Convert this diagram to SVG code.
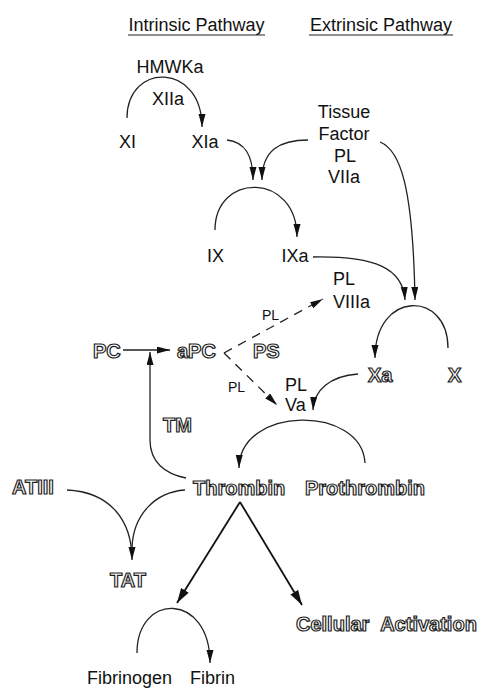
<svg xmlns="http://www.w3.org/2000/svg" width="486" height="689" viewBox="0 0 486 689">
<style>
.t{font-family:"Liberation Sans",Arial,sans-serif;font-size:18px;fill:#111}
.s{font-family:"Liberation Sans",Arial,sans-serif;font-size:14px;fill:#111}
.o{font-family:"Liberation Sans",Arial,sans-serif;font-size:20px;font-weight:bold;fill:#fff;stroke:#1e1e1e;stroke-width:1.2}
.c{fill:none;stroke:#222;stroke-width:1.3}
.d{fill:none;stroke:#222;stroke-width:1.3;stroke-dasharray:9 7}
.b{fill:none;stroke:#111;stroke-width:1.8}
</style>
<defs>
<marker id="a" markerUnits="userSpaceOnUse" markerWidth="14" markerHeight="8" refX="13" refY="3.5" orient="auto"><path d="M0,0 L13,3.5 L0,7 z" fill="#111"/></marker>
<marker id="ab" markerUnits="userSpaceOnUse" markerWidth="16" markerHeight="10" refX="15" refY="4.5" orient="auto"><path d="M0,0 L15,4.5 L0,9 z" fill="#111"/></marker>
</defs>
<g id="headers">
<text class="t" x="196.5" y="31" text-anchor="middle">Intrinsic Pathway</text>
<line x1="128" y1="35" x2="265" y2="35" stroke="#222" stroke-width="1.2"/>
<text class="t" x="381" y="31" text-anchor="middle">Extrinsic Pathway</text>
<line x1="309" y1="35" x2="453" y2="35" stroke="#222" stroke-width="1.2"/>
</g>
<g id="n-hmwka"><text class="t" x="170" y="73" text-anchor="middle">HMWKa</text></g>
<g id="n-xiia"><text class="t" x="168" y="105" text-anchor="middle">XIIa</text></g>
<g id="n-xi"><text class="t" x="127.5" y="148" text-anchor="middle">XI</text></g>
<g id="n-xia"><text class="t" x="205" y="148" text-anchor="middle">XIa</text></g>
<g id="n-tf"><text class="t" x="344" y="118" text-anchor="middle">Tissue</text><text class="t" x="344" y="140" text-anchor="middle">Factor</text><text class="t" x="345" y="162" text-anchor="middle">PL</text><text class="t" x="344" y="183" text-anchor="middle">VIIa</text></g>
<g id="n-ix"><text class="t" x="215.5" y="262" text-anchor="middle">IX</text></g>
<g id="n-ixa"><text class="t" x="295" y="262" text-anchor="middle">IXa</text></g>
<g id="n-viiia"><text class="t" x="333" y="285">PL</text><text class="t" x="333" y="308">VIIIa</text></g>
<g id="n-xa"><text class="o" x="368" y="382">Xa</text></g>
<g id="n-x"><text class="o" x="448" y="382">X</text></g>
<g id="n-pc"><text class="o" x="93" y="358">PC</text></g>
<g id="n-apc"><text class="o" x="177" y="358">aPC</text></g>
<g id="n-ps"><text class="o" x="253" y="358">PS</text></g>
<g id="n-pl1"><text class="s" x="262" y="320">PL</text></g>
<g id="n-pl2"><text class="s" x="228" y="392">PL</text></g>
<g id="n-va"><text class="t" x="285" y="391">PL</text><text class="t" x="285" y="411">Va</text></g>
<g id="n-tm"><text class="o" x="163" y="432">TM</text></g>
<g id="n-atiii"><text class="o" x="12" y="494">ATIII</text></g>
<g id="n-thrombin"><text class="o" x="193" y="495">Thrombin</text></g>
<g id="n-prothrombin"><text class="o" x="305" y="495">Prothrombin</text></g>
<g id="n-tat"><text class="o" x="110" y="587">TAT</text></g>
<g id="n-cell"><text class="o" x="296" y="631" word-spacing="6">Cellular Activation</text></g>
<g id="n-fibrinogen"><text class="t" x="87" y="684">Fibrinogen</text></g>
<g id="n-fibrin"><text class="t" x="190" y="684">Fibrin</text></g>
<g id="connectors">
<path class="c" d="M127,118 C127,62 202,62 202,127" marker-end="url(#a)"/>
<path class="c" d="M227,140 C245,142 253,155 253,180" marker-end="url(#a)"/>
<path class="c" d="M308,140 C280,140 262,150 262,180" marker-end="url(#a)"/>
<path class="c" d="M380,142 C400,150 413,185 415,300" marker-end="url(#a)"/>
<path class="c" d="M215,230 C215,172 297,172 297,237" marker-end="url(#a)"/>
<path class="c" d="M313,257 C375,256 403,268 405,300" marker-end="url(#a)"/>
<path class="c" d="M448,348 C448,290 375,290 375,358" marker-end="url(#a)"/>
<path class="c" d="M123,350 L170,350" marker-end="url(#a)"/>
<path class="c" d="M186,478 C165,474 150,462 150,440 L150,352" marker-end="url(#a)"/>
<path class="d" d="M224,353 L323,299" marker-end="url(#a)"/>
<path class="d" d="M224,353 L277,405" marker-end="url(#a)"/>
<path class="c" d="M358,374 C330,376 314,390 313,410" marker-end="url(#a)"/>
<path class="c" d="M365,463 C362,405 240,405 239,468" marker-end="url(#a)"/>
<path class="c" d="M67,490 C110,492 132,520 132,560" marker-end="url(#a)"/>
<path class="c" d="M185,490 C155,492 133,515 132,548"/>
<path class="b" d="M240,502 L177,603" marker-end="url(#ab)"/>
<path class="b" d="M240,502 L302,605" marker-end="url(#ab)"/>
<path class="c" d="M137,653 C137,592 210,592 210,663" marker-end="url(#a)"/>
</g>
</svg>
